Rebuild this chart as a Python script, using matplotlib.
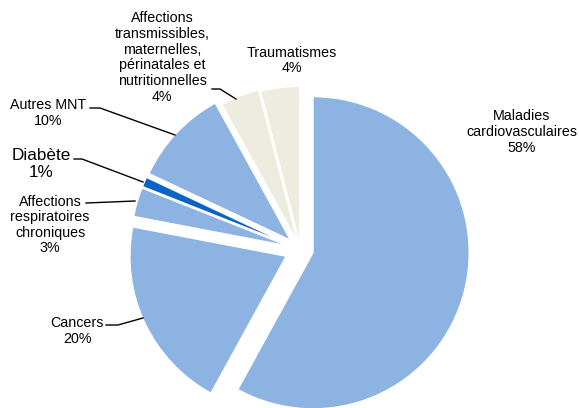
import matplotlib.pyplot as plt

plt.rcParams['font.family'] = ['Liberation Sans', 'DejaVu Sans']

# données
categories = ["Maladies\ncardiovasculaires", "Cancers", "Affections\nrespiratoires\nchroniques",
              "Diabète", "Autres MNT",
              "Affections\ntransmissibles,\nmaternelles,\npérinatales et\nnutritionnelles",
              "Traumatismes"]
valeurs = [58, 20, 3, 1, 10, 4, 4]
couleurs = ['#8DB3E2', '#8DB3E2', '#8DB3E2', '#0A64C8', '#8DB3E2', '#EEECE1', '#EEECE1']
eclate = [13, 16, 14, 14, 14, 9, 7]  # en pixels

W, H = 579, 408
fig = plt.figure(figsize=(W / 100, H / 100), dpi=100)
ax = fig.add_axes([0, 0, 1, 1])

def Y(py):
    return H - py

ax.pie(valeurs, colors=couleurs, explode=eclate, startangle=90, counterclock=False,
       radius=156, center=(300.5, Y(249.5)), frame=True,
       wedgeprops=dict(edgecolor='white', linewidth=0.8))
ax.set_xlim(0, W)
ax.set_ylim(0, H)
ax.set_aspect('equal')
ax.axis('off')

# étiquettes (position centre x, y en pixels)
pos_etiq = [(522, 132), (77, 331), (50, 225), (41, 164), (48, 113), (162, 57.5), (292, 60.5)]
tailles = [10.3, 10.3, 10.3, 12.3, 10.3, 10.3, 10.3]
for cat, v, (px, py), fs in zip(categories, valeurs, pos_etiq, tailles):
    ax.text(px, Y(py), f"{cat}\n{v}%", ha='center', va='center', fontsize=fs,
            linespacing=1.15, color='black')

# lignes de rappel
rappels = [
    [(106, 325), (118, 325), (143, 318)],
    [(86, 203), (135, 201)],
    [(74, 159), (82, 159), (143, 182)],
    [(90, 108), (100, 108), (175, 135)],
    [(212, 89), (220, 89), (236, 99)],
]
for pts in rappels:
    ax.plot([p[0] for p in pts], [Y(p[1]) for p in pts], color='black', linewidth=1)

fig.savefig('out.png', dpi=100)
